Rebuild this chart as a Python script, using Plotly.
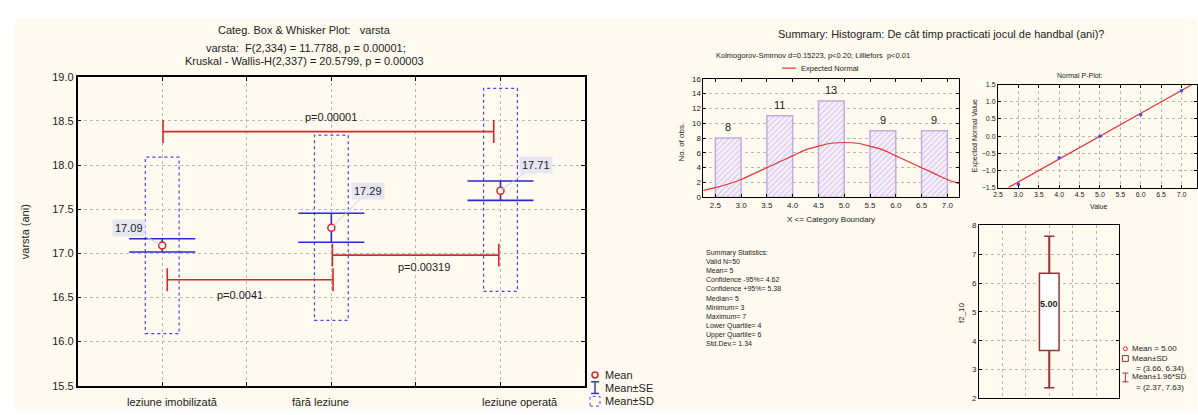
import plotly.graph_objects as go

W, H = 1198, 415
FONT = "Liberation Sans, Arial, sans-serif"

# ---------------- data: left panel ----------------
groups = ["leziune imobilizată", "fără leziune", "leziune operată"]
group_pos = [1, 2, 3]
means = [17.09, 17.29, 17.71]
se_hi = [17.165, 17.455, 17.82]
se_lo = [17.015, 17.125, 17.60]
sd_hi = [18.09, 18.34, 18.87]
sd_lo = [16.09, 16.24, 16.57]
mean_labels = ["17.09", "17.29", "17.71"]
y_ticks_left = [15.5, 16.0, 16.5, 17.0, 17.5, 18.0, 18.5, 19.0]

br_x0 = [1.005, 2.006, 1.03]
br_x1 = [2.96, 2.99, 2.01]
br_y = [18.38, 16.98, 16.70]
br_text = ["p=0.00001", "p=0.00319", "p=0.0041"]
br_text_x = [2.0, 2.55, 1.46]
br_text_y = [18.55, 16.85, 16.53]

# ---------------- data: histogram ----------------
bin_lo = [2.5, 3.5, 4.5, 5.5, 6.5]
bin_hi = [3.0, 4.0, 5.0, 6.0, 7.0]
counts = [8, 11, 13, 9, 9]
norm_x = [2.25, 2.5, 2.75, 3.0, 3.25, 3.5, 3.75, 4.0, 4.25, 4.5, 4.75, 5.0,
          5.25, 5.5, 5.75, 6.0, 6.25, 6.5, 6.75, 7.0, 7.25]
norm_y = [0.9, 1.3, 1.8, 2.4, 3.2, 4.0, 4.8, 5.6, 6.4, 6.9, 7.3, 7.4,
          7.3, 6.9, 6.4, 5.6, 4.8, 4.0, 3.2, 2.4, 1.8]
hist_xticks = [2.5, 3.0, 3.5, 4.0, 4.5, 5.0, 5.5, 6.0, 6.5, 7.0]

# ---------------- data: normal p-plot ----------------
pp_x = [3, 4, 5, 6, 7]
pp_y = [-1.40, -0.63, 0.0, 0.62, 1.32]
fit_x = [2.75, 7.25]
fit_y = [-1.5, 1.5]

# ---------------- data: box plot ----------------
bx_mean = 5.00
bx_sd = (3.66, 6.34)
bx_ci = (2.37, 7.63)

stats_lines = ["Summary Statistics:", "Valid N=50", "Mean= 5", "Confidence -95%= 4.62",
               "Confidence +95%= 5.38", "Median= 5", "Minimum= 3", "Maximum= 7",
               "Lower Quartile= 4", "Upper Quartile= 6", "Std.Dev.= 1.34"]

RED = "#d62828"
BLUE = "#2a2ad0"
SDBLUE = "#4646e6"
MAROON = "#963434"
GRID = "#b8b8b8"
CREAM = "#fffaef"


def fx(px):
    return px / W


def fy(py):
    return 1 - py / H


fig = go.Figure()

# ---- left panel traces ----
fig.add_trace(go.Scatter(
    x=group_pos, y=means, mode="markers", xaxis="x", yaxis="y",
    marker=dict(symbol="circle", size=7, color="white", line=dict(color=RED, width=1.5)),
    error_y=dict(type="data", symmetric=False,
                 array=[h - m for h, m in zip(se_hi, means)],
                 arrayminus=[m - l for m, l in zip(means, se_lo)],
                 color=BLUE, thickness=1.6, width=33),
    showlegend=False, hoverinfo="skip"))

shapes = [dict(type="rect", xref="paper", yref="paper", x0=fx(10), x1=1, y0=0, y1=fy(13),
               fillcolor=CREAM, line=dict(width=0), layer="below")]
for c, lo, hi in zip(group_pos, sd_lo, sd_hi):
    shapes.append(dict(type="rect", xref="x", yref="y", x0=c - 0.1, x1=c + 0.1, y0=lo, y1=hi,
                       line=dict(color=SDBLUE, width=1.2, dash="dot"), layer="below"))
for x0, x1, y in zip(br_x0, br_x1, br_y):
    shapes.append(dict(type="line", xref="x", yref="y", x0=x0, x1=x1, y0=y, y1=y,
                       line=dict(color=RED, width=1.6)))
    for xe in (x0, x1):
        shapes.append(dict(type="line", xref="x", yref="y", x0=xe, x1=xe, y0=y - 0.13, y1=y + 0.13,
                           line=dict(color=RED, width=1.6)))

annotations = []
for t, x, y in zip(br_text, br_text_x, br_text_y):
    annotations.append(dict(text=t, x=x, y=y, xref="x", yref="y", showarrow=False,
                            xanchor="center", yanchor="middle",
                            font=dict(family=FONT, size=11, color="#222")))

label_off = [(-33, -17), (37, -37), (35, -26)]
for c, m, t, (ax, ay) in zip(group_pos, means, mean_labels, label_off):
    annotations.append(dict(text=t, x=c, y=m, xref="x", yref="y", showarrow=True,
                            ax=ax, ay=ay, arrowhead=0, arrowwidth=1, arrowcolor="#c9c9ec",
                            bgcolor="#e6e6f2", borderpad=2,
                            font=dict(family=FONT, size=11, color="#222")))

small = dict(family=FONT, color="#222")


def txt(t, px, py, size, xanchor="center", angle=0, **kw):
    d = dict(text=t, x=fx(px), y=fy(py), xref="paper", yref="paper", showarrow=False,
             xanchor=xanchor, yanchor=kw.pop("yanchor", "middle"), textangle=angle,
             font=dict(size=size, **small))
    d.update(kw)
    annotations.append(d)


xlab_px = [168, 317, 518]
for g, px in zip(groups, xlab_px):
    txt(g, px, 408, 11)

txt("varsta (ani)", 20, 232, 11, angle=-90)
txt("Categ. Box &amp; Whisker Plot:\u00a0\u00a0\u00a0varsta", 301, 25, 11)
txt("varsta:\u00a0\u00a0F(2,334) = 11.7788, p = 0.00001;", 303, 43, 11)
txt("Kruskal - Wallis-H(2,337) = 20.5799, p = 0.00003", 301, 57, 11)

# left legend
shapes += [
    dict(type="circle", xref="paper", yref="paper", x0=fx(590), x1=fx(596), y0=fy(383), y1=fy(377),
         line=dict(color=RED, width=1.5), fillcolor="white"),
    dict(type="line", xref="paper", yref="paper", x0=fx(593), x1=fx(593), y0=fy(387), y1=fy(399),
         line=dict(color=BLUE, width=1.4)),
    dict(type="line", xref="paper", yref="paper", x0=fx(589), x1=fx(597), y0=fy(387), y1=fy(387),
         line=dict(color=BLUE, width=1.4)),
    dict(type="line", xref="paper", yref="paper", x0=fx(589), x1=fx(597), y0=fy(399), y1=fy(399),
         line=dict(color=BLUE, width=1.4)),
    dict(type="rect", xref="paper", yref="paper", x0=fx(588), x1=fx(598), y0=fy(412), y1=fy(402),
         line=dict(color=SDBLUE, width=1, dash="dot")),
]
for t, py in [("Mean", 380), ("Mean±SE", 393), ("Mean±SD", 407)]:
    txt(t, 601, py, 11, xanchor="left")

# ---- histogram ----
fig.add_trace(go.Bar(
    x=[(a + b) / 2 for a, b in zip(bin_lo, bin_hi)], y=counts,
    width=[b - a for a, b in zip(bin_lo, bin_hi)], xaxis="x2", yaxis="y2",
    marker=dict(color="#f7f2fb", line=dict(color="#c4abdf", width=1.5),
                pattern=dict(shape="/", fgcolor="#bba2da", size=4, solidity=0.35)),
    showlegend=False, hoverinfo="skip"))
for xc, c in zip([(a + b) / 2 for a, b in zip(bin_lo, bin_hi)], counts):
    annotations.append(dict(text=str(c), x=xc, y=c + 1.45, xref="x2", yref="y2", showarrow=False,
                            xanchor="center", yanchor="middle", font=dict(family=FONT, size=11, color="#222")))
fig.add_trace(go.Scatter(x=norm_x, y=norm_y, mode="lines", line=dict(color="#e83232", width=1.2, shape="spline"),
                         xaxis="x2", yaxis="y2", showlegend=False, hoverinfo="skip"))

# ---- p-plot ----
fig.add_trace(go.Scatter(x=fit_x, y=fit_y, mode="lines", line=dict(color="#e83232", width=1.2),
                         xaxis="x3", yaxis="y3", showlegend=False, hoverinfo="skip"))
fig.add_trace(go.Scatter(x=pp_x, y=pp_y, mode="markers", marker=dict(color="#4a4ae6", size=3.5),
                         xaxis="x3", yaxis="y3", showlegend=False, hoverinfo="skip"))

# ---- box plot ----
bc = 3
shapes += [
    dict(type="line", xref="x4", yref="y4", x0=bc, x1=bc, y0=bx_ci[0], y1=bx_sd[0], line=dict(color=MAROON, width=2)),
    dict(type="line", xref="x4", yref="y4", x0=bc, x1=bc, y0=bx_sd[1], y1=bx_ci[1], line=dict(color=MAROON, width=2)),
    dict(type="line", xref="x4", yref="y4", x0=bc - 0.22, x1=bc + 0.22, y0=bx_ci[0], y1=bx_ci[0], line=dict(color=MAROON, width=1.5)),
    dict(type="line", xref="x4", yref="y4", x0=bc - 0.22, x1=bc + 0.22, y0=bx_ci[1], y1=bx_ci[1], line=dict(color=MAROON, width=1.5)),
    dict(type="rect", xref="x4", yref="y4", x0=bc - 0.42, x1=bc + 0.42, y0=bx_sd[0], y1=bx_sd[1],
         line=dict(color=MAROON, width=1.5), fillcolor="white"),
]
fig.add_trace(go.Scatter(x=[bc], y=[bx_mean], mode="markers", xaxis="x4", yaxis="y4",
                         marker=dict(symbol="circle", size=5, color="white", line=dict(color=RED, width=1.2)),
                         showlegend=False, hoverinfo="skip"))
annotations.append(dict(text="<b>%.2f</b>" % bx_mean, x=bc, y=bx_mean + 0.26, xref="x4", yref="y4", showarrow=False,
                        xanchor="center", yanchor="middle", font=dict(family=FONT, size=9, color="#222")))

# right panel texts
txt("Summary: Histogram: De cât timp practicati jocul de handbal (ani)?", 941, 29, 11)
txt("Kolmogorov-Smirnov d=0.15223, p<0.20; Lilliefors  p<0.01", 713, 51, 7.5, xanchor="left")
txt("Expected Normal", 798, 64, 7.5, xanchor="left")
txt("Normal P-Plot:", 1080, 72, 7)
txt("No. of obs.", 680, 140, 8, angle=-90)
txt("X <= Category Boundary", 830, 220, 8)
txt("Expected Normal Value", 975, 134, 7, angle=-90)
txt("Value", 1099, 206, 7)
txt("f2_10", 962, 316, 8, angle=-90)
txt("<br>".join(stats_lines), 703, 248, 7, xanchor="left", yanchor="top", align="left")
for t, px, py in [("Mean = 5.00", 1131, 353), ("Mean±SD", 1131, 363), ("= (3.66, 6.34)", 1135, 373),
                  ("Mean±1.96*SD", 1131, 382), ("= (2.37, 7.63)", 1135, 393)]:
    txt(t, px, py, 8, xanchor="left")

shapes += [
    dict(type="line", xref="paper", yref="paper", x0=fx(781), x1=fx(795), y0=fy(64), y1=fy(64),
         line=dict(color="#e83232", width=1.2)),
    dict(type="circle", xref="paper", yref="paper", x0=fx(1124), x1=fx(1128), y0=fy(355), y1=fy(351),
         line=dict(color=RED, width=1), fillcolor="white"),
    dict(type="rect", xref="paper", yref="paper", x0=fx(1123), x1=fx(1129), y0=fy(366), y1=fy(360),
         line=dict(color=MAROON, width=1)),
    dict(type="line", xref="paper", yref="paper", x0=fx(1126), x1=fx(1126), y0=fy(378), y1=fy(387),
         line=dict(color=MAROON, width=1)),
    dict(type="line", xref="paper", yref="paper", x0=fx(1123), x1=fx(1129), y0=fy(378), y1=fy(378),
         line=dict(color=MAROON, width=1)),
    dict(type="line", xref="paper", yref="paper", x0=fx(1123), x1=fx(1129), y0=fy(387), y1=fy(387),
         line=dict(color=MAROON, width=1)),
]

ax_common = dict(showline=True, linecolor="black", zeroline=False, gridcolor=GRID, griddash="dot",
                 gridwidth=1, ticks="inside", tickcolor="black", mirror="ticks")
tick_small = dict(family=FONT, size=8, color="#222")

fig.update_layout(
    width=W, height=H, margin=dict(l=0, r=0, t=0, b=0),
    paper_bgcolor="white", plot_bgcolor="white",
    shapes=shapes, annotations=annotations, showlegend=False,
    xaxis=dict(domain=[fx(73), fx(583)], range=[0.5, 3.5], tickvals=[1, 1.5, 2, 2.5, 3], showticklabels=False,
               linewidth=1.5, ticklen=4, **ax_common),
    yaxis=dict(domain=[fy(391), fy(73)], range=[15.5, 19.0], tickvals=y_ticks_left, tickformat=".1f",
               linewidth=1.5, ticklen=4, tickfont=dict(family=FONT, size=11, color="#222"), **ax_common),
    xaxis2=dict(domain=[fx(702), fx(959)], range=[2.27, 7.23], tickvals=hist_xticks, tickformat=".1f",
                anchor="y2", showgrid=False, ticklen=3, tickfont=tick_small, **ax_common),
    yaxis2=dict(domain=[fy(197), fy(75)], range=[0, 16], dtick=2, anchor="x2", ticklen=3,
                tickfont=tick_small, **ax_common),
    xaxis3=dict(domain=[fx(998), 1.0], range=[2.5, 7.38], dtick=0.5, tickformat=".1f", anchor="y3",
                ticklen=3, tickfont=dict(family=FONT, size=7, color="#222"), **ax_common),
    yaxis3=dict(domain=[fy(187), fy(81)], range=[-1.5, 1.5], dtick=0.5, tickformat=".1f", anchor="x3",
                ticklen=3, tickfont=dict(family=FONT, size=7, color="#222"), **ax_common),
    xaxis4=dict(domain=[fx(979), fx(1120)], range=[0, 6], tickvals=[1, 2, 3, 4, 5], showticklabels=False,
                anchor="y4", ticklen=0, **ax_common),
    yaxis4=dict(domain=[fy(404), fy(226)], range=[2, 8], dtick=1, anchor="x4", ticklen=3,
                tickfont=tick_small, **ax_common),
)

fig.write_html("out.html", config={"displayModeBar": False},
               post_script="document.body.style.margin='0';document.body.style.overflow='hidden';")
